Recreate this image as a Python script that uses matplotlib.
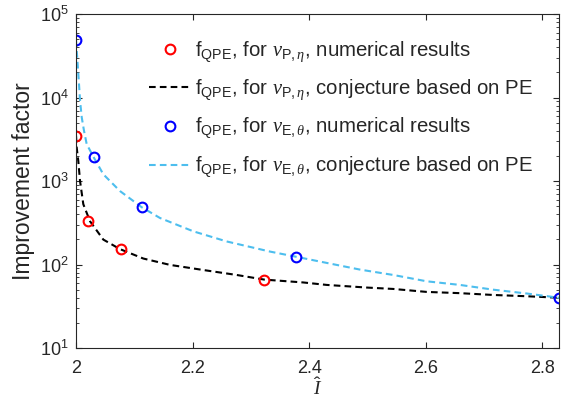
import matplotlib
matplotlib.use("Agg")
import matplotlib.pyplot as plt
from matplotlib.ticker import LogLocator, NullFormatter, FixedLocator

plt.rcParams['font.family'] = ['Liberation Sans', 'DejaVu Sans']
plt.rcParams['mathtext.fontset'] = 'custom'
plt.rcParams['mathtext.rm'] = 'Liberation Sans'
plt.rcParams['mathtext.sf'] = 'Liberation Sans'
plt.rcParams['mathtext.it'] = 'Liberation Serif:italic'
plt.rcParams['mathtext.bf'] = 'Liberation Sans:bold'

# numerical results, nu_P,eta
red_x = [2.0, 2.021, 2.0766, 2.3229]
red_y = [3480, 330, 155, 66]
# numerical results, nu_E,theta
blue_x = [2.0, 2.0314, 2.1137, 2.377, 2.8284]
blue_y = [48600, 1963, 486, 124, 40]
# conjecture, nu_P,eta
black_x = [2.0, 2.0012, 2.0039, 2.0069, 2.0125, 2.024, 2.0468, 2.0754, 2.1154,
           2.1612, 2.2182, 2.2755, 2.3228, 2.3897, 2.4298, 2.4984, 2.544, 2.6012,
           2.6583, 2.7154, 2.7727, 2.8284]
black_y = [3480, 2500, 1740, 1000, 528, 330, 199, 153, 118, 99, 86, 75, 66, 61,
           57, 53, 51, 47, 45.4, 43.2, 41.7, 40]
# conjecture, nu_E,theta
lblue_x = [2.0, 2.0012, 2.0051, 2.0069, 2.0098, 2.0137, 2.0183, 2.0297, 2.0468,
           2.0754, 2.1126, 2.144, 2.2011, 2.2584, 2.3326, 2.3772, 2.4469, 2.4869,
           2.544, 2.6012, 2.6583, 2.7154, 2.7727, 2.8284]
lblue_y = [48600, 36800, 14600, 9200, 5800, 4000, 2770, 1960, 1205, 759, 486,
           361, 250, 189, 143, 124, 99, 87, 75, 63, 57, 50, 45, 40]

xticks = [2.0, 2.2, 2.4, 2.6, 2.8]
xticklabels = ['2', '2.2', '2.4', '2.6', '2.8']

labels = [
    r'f$_{\mathrm{QPE}}$, for $\nu_{\mathrm{P},\eta}$, numerical results',
    r'f$_{\mathrm{QPE}}$, for $\nu_{\mathrm{P},\eta}$, conjecture based on PE',
    r'f$_{\mathrm{QPE}}$, for $\nu_{\mathrm{E},\theta}$, numerical results',
    r'f$_{\mathrm{QPE}}$, for $\nu_{\mathrm{E},\theta}$, conjecture based on PE',
]

axc = (0.15, 0.15, 0.15)
fig = plt.figure(figsize=(5.61, 3.98), dpi=100)
ax = fig.add_axes([0.1355, 0.1256, 0.861, 0.839])

dash = (0, (3.2, 2.0))
h2, = ax.plot(black_x, black_y, color='black', lw=1.5, linestyle=dash, label=labels[1])
h4, = ax.plot(lblue_x, lblue_y, color=(0.301, 0.745, 0.933), lw=1.5, linestyle=dash, label=labels[3])
h1, = ax.plot(red_x, red_y, 'o', mfc='none', mec='red', ms=7, mew=1.5, label=labels[0])
h3, = ax.plot(blue_x, blue_y, 'o', mfc='none', mec='blue', ms=7, mew=1.5, label=labels[2])

ax.set_yscale('log')
ax.set_xlim(2.0, 2.8284)
ax.set_ylim(10, 1e5)
ax.xaxis.set_major_locator(FixedLocator(xticks))
ax.set_xticklabels(xticklabels)
ax.yaxis.set_major_locator(LogLocator(base=10, numticks=10))
ax.yaxis.set_minor_locator(LogLocator(base=10, subs=range(2, 10), numticks=10))
ax.yaxis.set_minor_formatter(NullFormatter())

ax.tick_params(which='both', direction='in', top=True, right=True, colors=axc,
               labelsize=13, labelcolor=axc)
ax.tick_params(which='major', length=4, width=0.8)
ax.tick_params(which='minor', length=2.5, width=0.6)
ax.tick_params(axis='x', which='major', pad=8.5)
ax.tick_params(axis='y', which='major', pad=5)
for s in ax.spines.values():
    s.set_color(axc)
    s.set_linewidth(0.8)

ax.set_ylabel('Improvement factor', fontsize=16.5, color=axc, labelpad=4)
ax.set_xlabel(r'$\hat{I}$', fontsize=14, color=axc)
ax.xaxis.set_label_coords(0.5, -0.086)

leg = ax.legend([h1, h2, h3, h4], labels, loc='upper right', frameon=False,
                fontsize=14.7, handlelength=2.1, handletextpad=0.15, labelspacing=0.68,
                borderaxespad=0.3, bbox_to_anchor=(0.975, 0.967))
for t in leg.get_texts():
    t.set_color(axc)

fig.savefig('out.png', dpi=100)
